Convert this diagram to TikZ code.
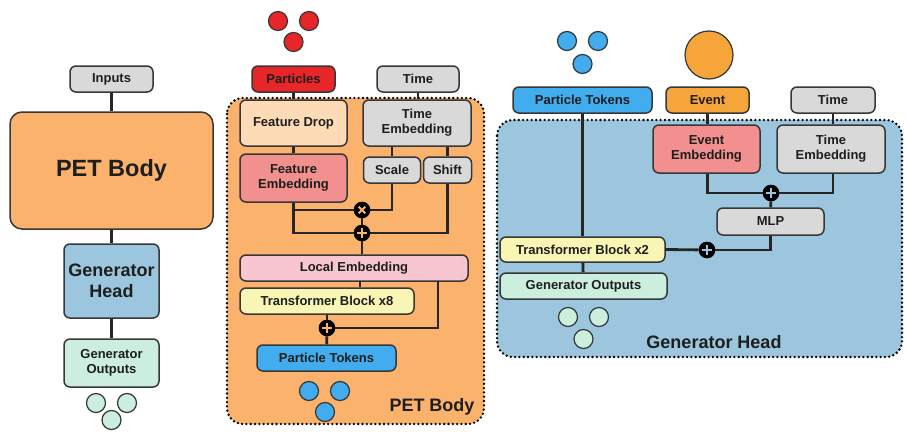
\documentclass[tikz,border=0pt]{standalone}
\usepackage{fontspec}
\setmainfont{Liberation Sans}
\usetikzlibrary{calc}

\definecolor{petorange}{RGB}{250,178,108}
\definecolor{headblue}{RGB}{155,198,222}
\definecolor{boxgray}{RGB}{217,217,217}
\definecolor{partred}{RGB}{232,38,42}
\definecolor{peach}{RGB}{253,219,183}
\definecolor{salmon}{RGB}{242,143,143}
\definecolor{pinkemb}{RGB}{248,198,208}
\definecolor{paleyellow}{RGB}{249,246,181}
\definecolor{tokblue}{RGB}{65,173,239}
\definecolor{outgreen}{RGB}{203,238,222}
\definecolor{eventorange}{RGB}{246,165,58}
\definecolor{edge}{RGB}{55,55,55}
\definecolor{ink}{RGB}{30,30,30}

\tikzset{
  box/.style={draw=edge, line width=1.5pt, rounded corners=6pt, inner sep=2pt,
    align=center, text=ink, font=\fontsize{13}{15}\selectfont\bfseries},
  bigbox/.style={box, rounded corners=12pt},
  panel/.style={draw=black, line width=2.6pt, dash pattern=on 0pt off 4.3pt,
    line cap=round, rounded corners=16pt},
  wire/.style={draw=black!85, line width=2.8pt},
  dotc/.style={circle, draw=edge, line width=1.2pt, minimum size=19pt, inner sep=0pt},
  opplus/.style={circle, fill=black, minimum size=16.5pt, inner sep=0pt,
    path picture={
      \draw[#1, line width=2pt]
        ([xshift=-4.6pt]path picture bounding box.center) -- ([xshift=4.6pt]path picture bounding box.center)
        ([yshift=-4.6pt]path picture bounding box.center) -- ([yshift=4.6pt]path picture bounding box.center);}},
  optimes/.style={circle, fill=black, minimum size=16.5pt, inner sep=0pt,
    path picture={
      \draw[#1, line width=2pt]
        ([shift={(-3.3pt,-3.3pt)}]path picture bounding box.center) -- ([shift={(3.3pt,3.3pt)}]path picture bounding box.center)
        ([shift={(-3.3pt,3.3pt)}]path picture bounding box.center) -- ([shift={(3.3pt,-3.3pt)}]path picture bounding box.center);}},
  biglabel/.style={text=ink, font=\fontsize{18}{20}\selectfont\bfseries}
}

\begin{document}
\begin{tikzpicture}[x=1pt, y=-1pt]
\useasboundingbox[fill=white] (0,0) rectangle (908,434);

% ---------------- overview column ----------------
\node[box, fill=boxgray, minimum width=83pt, minimum height=26pt] (inputs) at (111.5,79) {Inputs};
\node[bigbox, fill=petorange, minimum width=203pt, minimum height=117pt,
      font=\fontsize{23.5}{26}\selectfont\bfseries] (petbig) at (111.5,170.5) {PET Body};
\node[box, fill=headblue, minimum width=95pt, minimum height=74pt,
      font=\fontsize{18}{21}\selectfont\bfseries] (genhead) at (111.5,281) {Generator\\Head};
\node[box, fill=outgreen, minimum width=95pt, minimum height=48pt] (genout) at (111.5,363) {Generator\\Outputs};
\node[dotc, fill=outgreen] (g1) at (96,403) {};
\node[dotc, fill=outgreen] (g2) at (127,403) {};
\node[dotc, fill=outgreen] (g3) at (111.5,420) {};
\draw[wire] (inputs) -- (petbig);
\draw[wire] (petbig) -- (genhead);
\draw[wire] (genhead) -- (genout);

% ---------------- PET body ----------------
\draw[panel, fill=petorange] (227,98) rectangle (484,424);
\node[biglabel] (petlabel) at (432,407) {PET Body};

\node[dotc, fill=partred] (r1) at (278,21) {};
\node[dotc, fill=partred] (r2) at (309,21) {};
\node[dotc, fill=partred] (r3) at (293.5,42) {};

\node[box, fill=partred, minimum width=83pt, minimum height=26pt] (particles) at (293.5,79) {Particles};
\node[box, fill=boxgray, minimum width=82pt, minimum height=26pt] (time1) at (418,79) {Time};
\node[box, fill=peach, minimum width=107pt, minimum height=46pt] (featdrop) at (293.5,123) {Feature Drop};
\node[box, fill=boxgray, minimum width=108pt, minimum height=46pt] (timeemb1) at (417,123) {Time\\Embedding};
\node[box, fill=salmon, minimum width=107pt, minimum height=48pt] (featemb) at (293.5,178) {Feature\\Embedding};
\node[box, fill=boxgray, minimum width=57pt, minimum height=26pt] (scale) at (392,170) {Scale};
\node[box, fill=boxgray, minimum width=48pt, minimum height=26pt] (shift) at (447.5,170) {Shift};
\node[optimes=petorange] (times) at (362,210) {};
\node[opplus=petorange] (plus1) at (362,233) {};
\node[box, fill=pinkemb, minimum width=228pt, minimum height=26pt] (localemb) at (354,268) {Local Embedding};
\node[box, fill=paleyellow, minimum width=174pt, minimum height=26pt] (trans8) at (327,301) {Transformer Block x8};
\node[opplus=petorange] (plus2) at (327,328) {};
\node[box, fill=tokblue, minimum width=139pt, minimum height=26pt] (ptok1) at (326.5,358) {Particle Tokens};
\node[dotc, fill=tokblue] (b1) at (309,391) {};
\node[dotc, fill=tokblue] (b2) at (340,391) {};
\node[dotc, fill=tokblue] (b3) at (325,412) {};

\coordinate (lsplit) at (360,281);
\coordinate (lskip) at (438,281);

\draw[wire] (particles) -- (featdrop);
\draw[wire] (time1) -- (time1 |- timeemb1.north);
\draw[wire] (featdrop) -- (featemb);
\draw[wire] (scale.north) -- (scale.north |- timeemb1.south);
\draw[wire] (shift.north) -- (shift.north |- timeemb1.south);
\draw[wire] (featemb.south) |- (plus1);
\draw[wire] (featemb.south |- times) -- (times);
\draw[wire] (scale.south) |- (times);
\draw[wire] (shift.south) |- (plus1);
\draw[wire] (times) -- (plus1);
\draw[wire] (plus1) -- (plus1 |- localemb.north);
\draw[wire] (lsplit) -- (lsplit |- trans8.north);
\draw[wire] (lskip) |- (plus2);
\draw[wire] (trans8) -- (plus2);
\draw[wire] (plus2) -- (ptok1);

% ---------------- generator head ----------------
\draw[panel, fill=headblue] (497,120) rectangle (902,357);
\node[biglabel] (headlabel) at (714,342) {Generator Head};

\node[dotc, fill=tokblue] (t1) at (567,41) {};
\node[dotc, fill=tokblue] (t2) at (598,41) {};
\node[dotc, fill=tokblue] (t3) at (582.5,64) {};
\node[circle, draw=edge, line width=1.2pt, fill=eventorange, minimum size=48pt, inner sep=0pt] (evball) at (709,55) {};

\node[box, fill=tokblue, minimum width=139pt, minimum height=26pt] (ptok2) at (582.5,100) {Particle Tokens};
\node[box, fill=eventorange, minimum width=83pt, minimum height=26pt] (event) at (707.5,100) {Event};
\node[box, fill=boxgray, minimum width=84pt, minimum height=26pt] (time2) at (833,100) {Time};
\node[box, fill=salmon, minimum width=107pt, minimum height=48pt] (eventemb) at (706.5,149) {Event\\Embedding};
\node[box, fill=boxgray, minimum width=108pt, minimum height=48pt] (timeemb2) at (831,149) {Time\\Embedding};
\node[opplus=headblue] (plus3) at (771,193) {};
\node[box, fill=boxgray, minimum width=107pt, minimum height=27pt] (mlp) at (770.5,221.5) {MLP};
\node[box, fill=paleyellow, minimum width=165pt, minimum height=25pt] (trans2) at (582.5,249.5) {Transformer Block x2};
\node[opplus=headblue] (plus4) at (707,250) {};
\node[box, fill=outgreen, minimum width=167pt, minimum height=26pt] (genout2) at (583.5,286) {Generator Outputs};
\node[dotc, fill=outgreen] (o1) at (568,317) {};
\node[dotc, fill=outgreen] (o2) at (599,317) {};
\node[dotc, fill=outgreen] (o3) at (583.5,339) {};

\draw[wire] (ptok2) -- (trans2);
\draw[wire] (event) -- (event |- eventemb.north);
\draw[wire] (time2.south) -- (time2.south |- timeemb2.north);
\draw[wire] (eventemb.south -| event) |- (plus3);
\draw[wire] (timeemb2.south -| time2) |- (plus3);
\draw[wire] (plus3) -- (mlp);
\draw[wire] (trans2.east) -- (plus4);
\draw[wire] (plus4) -| (mlp.south);
\draw[wire] (trans2) -- (genout2);

% redraw the operator discs above the wires
\node[optimes=petorange] at (times) {};
\node[opplus=petorange] at (plus1) {};
\node[opplus=petorange] at (plus2) {};
\node[opplus=headblue] at (plus3) {};
\node[opplus=headblue] at (plus4) {};
\end{tikzpicture}
\end{document}
